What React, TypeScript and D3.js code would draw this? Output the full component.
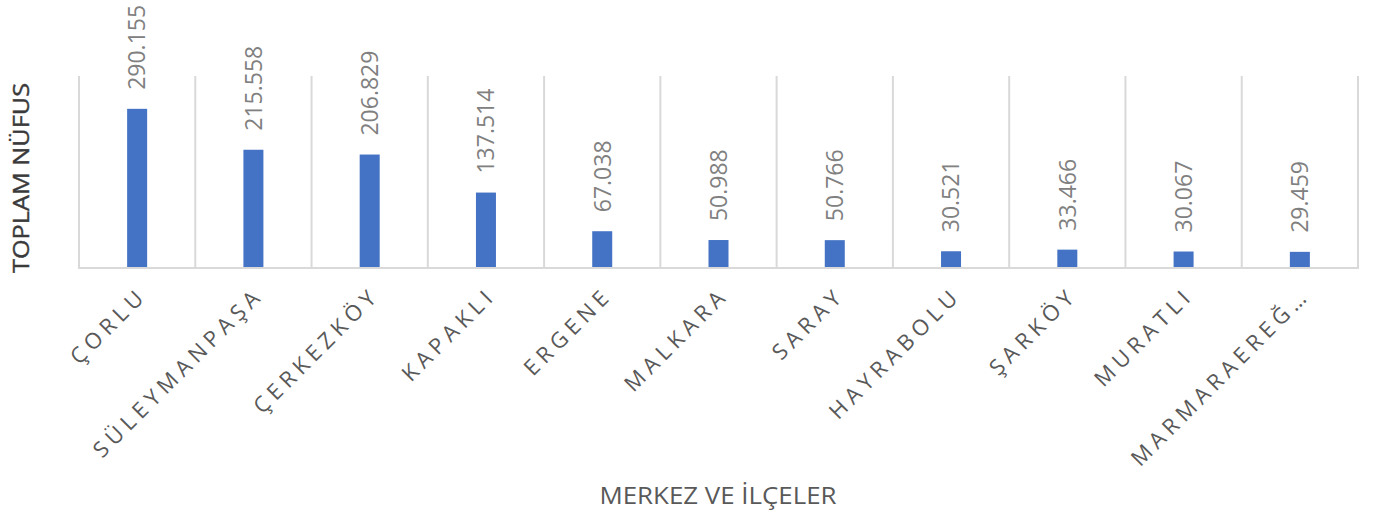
import React from "react";
import * as d3 from "d3";

const categories = [
  "ÇORLU",
  "SÜLEYMANPAŞA",
  "ÇERKEZKÖY",
  "KAPAKLI",
  "ERGENE",
  "MALKARA",
  "SARAY",
  "HAYRABOLU",
  "ŞARKÖY",
  "MURATLI",
  "MARMARAEREĞ…",
];
const population = [290155, 215558, 206829, 137514, 67038, 50988, 50766, 30521, 33466, 30067, 29459];
const yDomainMax = 350000;
const yTitle = "TOPLAM NÜFUS";
const xTitle = "MERKEZ VE İLÇELER";

const W = 1374;
const H = 517;
const left = 79;
const right = 1358;
const top = 76;
const bottom = 268;

const fmt = (v: number) => d3.format(",")(v).replace(/,/g, ".");

export default function App() {
  const x = d3.scaleBand<string>().domain(categories).range([left, right]).paddingInner(0).paddingOuter(0);
  const y = d3.scaleLinear().domain([0, yDomainMax]).range([bottom, top]);
  const bw = 20;
  const font = "'Open Sans', 'Noto Sans', sans-serif";
  const boundaries = categories.map((c) => x(c)!).concat([right]);

  return (
    <svg width={W} height={H} style={{ position: "absolute", left: 0, top: 0, background: "#fff" }}>
      <rect x={0} y={0} width={W} height={H} fill="#fff" />
      {boundaries.map((bx, i) => (
        <line key={i} x1={bx} x2={bx} y1={top} y2={bottom} stroke="#d9d9d9" strokeWidth={2} />
      ))}
      <line x1={left - 1} x2={right + 1} y1={bottom} y2={bottom} stroke="#d9d9d9" strokeWidth={2} />
      {categories.map((c, i) => {
        const cx = x(c)! + x.bandwidth() / 2;
        const v = population[i];
        return (
          <g key={c}>
            <rect x={cx - bw / 2} y={y(v)} width={bw} height={bottom - 1 - y(v)} fill="#4472c4" />
            <text
              transform={`translate(${cx},${y(v) - 19}) rotate(-90)`}
              dy="0.36em"
              fontFamily={font}
              fontSize={23}
              fill="#808080"
            >
              {fmt(v)}
            </text>
            <text
              transform={`translate(${cx + 6},${291}) rotate(-45)`}
              textAnchor="end"
              dy="0.35em"
              fontFamily={font}
              fontSize={22}
              letterSpacing={5.2}
              fill="#595959"
            >
              {c}
            </text>
          </g>
        );
      })}
      <text
        transform={`translate(29,178) rotate(-90)`}
        textAnchor="middle"
        fontFamily={font}
        fontSize={22}
        fill="#3a3a3a"
        stroke="#3a3a3a"
        strokeWidth={0.4}
        textLength={190}
        lengthAdjust="spacingAndGlyphs"
      >
        {yTitle}
      </text>
      <text
        x={718}
        y={504}
        textAnchor="middle"
        fontFamily={font}
        fontSize={24}
        fill="#595959"
        textLength={237}
        lengthAdjust="spacingAndGlyphs"
      >
        {xTitle}
      </text>
    </svg>
  );
}
